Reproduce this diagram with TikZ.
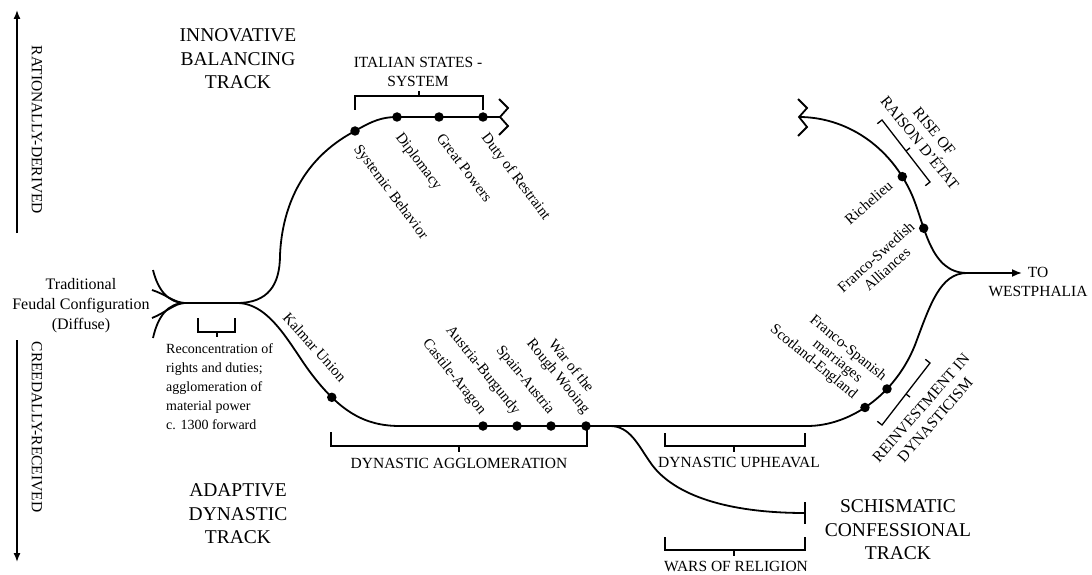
\documentclass[tikz,border=0pt]{standalone}
\usepackage{fontspec}
\setmainfont{Liberation Serif}
\usetikzlibrary{arrows.meta,calc}
\begin{document}
\begin{tikzpicture}[x=1pt,y=-1pt,
  track/.style={line width=1.8pt},
  brk/.style={line width=1.3pt},
  axis/.style={line width=1.4pt,-{Latex[length=9pt,width=7pt]}},
  dot/.style={circle,fill=black,inner sep=0pt,minimum size=9.5pt},
  evt/.style={font=\fontsize{15}{16.5}\selectfont,inner sep=0pt,align=center},
  capl/.style={font=\fontsize{15.5}{18.5}\selectfont,inner sep=0pt,align=center},
  ttl/.style={font=\fontsize{19.5}{23.5}\selectfont,inner sep=0pt,align=center},
  note/.style={font=\fontsize{14}{19.2}\selectfont,inner sep=0pt,align=left},
]
\useasboundingbox (0,0) rectangle (1092,575);

% ---------- key points of the tracks ----------
\coordinate (p0) at (185,303);
\coordinate (p1) at (237,303);
\coordinate (sb) at (355,131);
\coordinate (dip) at (397,117);
\coordinate (gp) at (439,117);
\coordinate (dr) at (483,117);
\coordinate (itend) at (500,117);
\coordinate (ca) at (483,426);
\coordinate (ab) at (517,426);
\coordinate (sa) at (551,426);
\coordinate (rw) at (586,426);
\coordinate (up) at (807,426);
\coordinate (j) at (967,273);
\coordinate (rend) at (799,117);
\coordinate (sc0) at (610,426);
\coordinate (sc1) at (805,513);
\coordinate (wtip) at (1022,273);

% ---------- vertical axes ----------
\coordinate (ra0) at (17,233); \coordinate (ra1) at (17,10);
\draw[axis] (ra0) -- (ra1);
\node[capl,rotate=-90] (rat) at (37,130) {RATIONALLY-DERIVED};
\coordinate (cr0) at (17,340); \coordinate (cr1) at (17,562);
\draw[axis] (cr0) -- (cr1);
\node[capl,rotate=-90] (cre) at (37,427) {CREEDALLY-RECEIVED};

% ---------- diffuse feudal strands ----------
\draw[track] (153,270) .. controls (158,290) and (168,303) .. (p0);
\draw[track] (152,290) .. controls (165,294) and (175,303) .. (p0);
\draw[track] (152,318) .. controls (165,313) and (175,303) .. (p0);
\draw[track] (153,338) .. controls (158,316) and (168,303) .. (p0);
\draw[track] (p0) -- (p1);
\node[font=\fontsize{16}{20}\selectfont,inner sep=0pt,align=center] (tf) at (81,306)
  {Traditional\\Feudal Configuration\\(Diffuse)};

% reconcentration bracket
\draw[brk] (198,318) -- (198,332) -- (235,332) -- (235,318);
\draw[brk] (217,332) -- (217,337);
\node[note,anchor=north west] (rc) at (166,343)
  {Reconcentration of\\rights and duties;\\agglomeration of\\material power\\c. 1300 forward};

% ---------- innovative balancing track ----------
\draw[track] (p1) .. controls (268,303) and (280,285) .. (280,255)
  .. controls (282,210) and (300,160) .. (sb)
  .. controls (372,121) and (382,117) .. (dip) -- (itend);
\draw[track] (499,99) -- (508,108) -- (itend) -- (508,126) -- (499,135);
\node[ttl] (ibt) at (238,59) {INNOVATIVE\\BALANCING\\TRACK};

\draw[brk] (355,110) -- (355,96) -- (483,96) -- (483,110);
\draw[brk] (419,96) -- (419,91);
\node[capl] (its) at (418,72) {ITALIAN STATES -\\SYSTEM};

% ---------- adaptive dynastic track ----------
\draw[track] (p1) .. controls (270,303) and (290,345) .. (310,372)
  .. controls (340,412) and (365,426) .. (400,426) coordinate[pos=.25] (km)
  -- (up)
  .. controls (850,426) and (895,395) .. (915,345) coordinate[pos=.46] (se) coordinate[pos=.66] (fs)
  .. controls (930,305) and (940,273) .. (j);
\node[ttl] (adt) at (238,514) {ADAPTIVE\\DYNASTIC\\TRACK};

\draw[brk] (331,432) -- (331,446) -- (587,446) -- (587,430);
\draw[brk] (459,446) -- (459,452);
\node[capl] (dag) at (459,463) {DYNASTIC AGGLOMERATION};

\draw[brk] (665,433) -- (665,446) -- (805,446) -- (805,433);
\draw[brk] (734,446) -- (734,452);
\node[capl] (dup) at (739,462) {DYNASTIC UPHEAVAL};

% ---------- raison d'etat track ----------
\draw[track] (rend) .. controls (845,117) and (890,145) .. (912,195) coordinate[pos=.87] (ri)
  .. controls (925,225) and (930,273) .. (j) coordinate[pos=.33] (fw);
\draw[track] (798,99) -- (807,108) -- (rend) -- (807,127) -- (798,136);

\draw[brk] (877.3,123.7) -- (882,120) -- (930,182) -- (925.3,185.7);
\draw[brk] (906,151) -- (910,147.9);
\node[capl,rotate=-51] (rde) at (927,137) {RISE OF\\RAISON D'ÉTAT};

\draw[brk] (877.3,421.3) -- (882,425) -- (930,363) -- (925.3,359.3);
\draw[brk] (906,394) -- (910,397.1);
\node[capl,rotate=49] (rid) at (928,414) {REINVESTMENT IN\\DYNASTICISM};

% ---------- schismatic confessional track ----------
\draw[track] (sc0) .. controls (630,426) and (638,445) .. (650,462)
  .. controls (670,492) and (720,513) .. (sc1);
\draw[track] (805,502) -- (805,524);
\node[ttl] (sct) at (898,530) {SCHISMATIC\\CONFESSIONAL\\TRACK};

\draw[brk] (665,537) -- (665,550) -- (805,550) -- (805,537);
\draw[brk] (734,550) -- (734,556);
\node[capl] (wor) at (736,566) {WARS OF RELIGION};

% ---------- outcome ----------
\draw[track,-{Latex[length=10pt,width=8pt]}] (j) -- (wtip);
\node[capl] (wp) at (1038,282) {TO\\WESTPHALIA};

% ---------- events ----------
\foreach \c in {sb,dip,gp,dr,km,ca,ab,sa,rw,se,fs,ri,fw}
  \node[dot] (\c-d) at (\c) {};

\node[evt,rotate=-53,anchor=west] (l-sb) at ($(sb)+(1,16)$) {Systemic Behavior};
\node[evt,rotate=-53,anchor=west] (l-dip) at ($(dip)+(1,18)$) {Diplomacy};
\node[evt,rotate=-53,anchor=west] (l-gp) at ($(gp)+(1,18)$) {Great Powers};
\node[evt,rotate=-53,anchor=west] (l-dr) at ($(dr)+(1,18)$) {Duty of Restraint};

\node[evt,rotate=-48,anchor=east] (l-km) at ($(km)+(12,-18)$) {Kalmar Union};
\node[evt,rotate=-51,anchor=east] (l-ca) at ($(ca)+(0,-13)$) {Castile-Aragon};
\node[evt,rotate=-51,anchor=east] (l-ab) at ($(ab)+(0,-13)$) {Austria-Burgundy};
\node[evt,rotate=-51,anchor=east] (l-sa) at ($(sa)+(0,-13)$) {Spain-Austria};
\node[evt,rotate=-51,anchor=east] (l-rw) at ($(rw)+(7,-19)$) {War of the\\Rough Wooing};

\node[evt,rotate=-39.5,anchor=east] (l-se) at ($(se)+(-10,-11)$) {Scotland-England};
\node[evt,rotate=-39.5,anchor=east] (l-fs) at ($(fs)+(-8,-4)$) {Franco-Spanish\\marriages};

\node[evt,rotate=41,anchor=east] (l-ri) at ($(ri)+(-12,7)$) {Richelieu};
\node[evt,rotate=42,anchor=east] (l-fw) at ($(fw)+(-6,2)$) {Franco-Swedish\\Alliances};
\end{tikzpicture}
\end{document}
